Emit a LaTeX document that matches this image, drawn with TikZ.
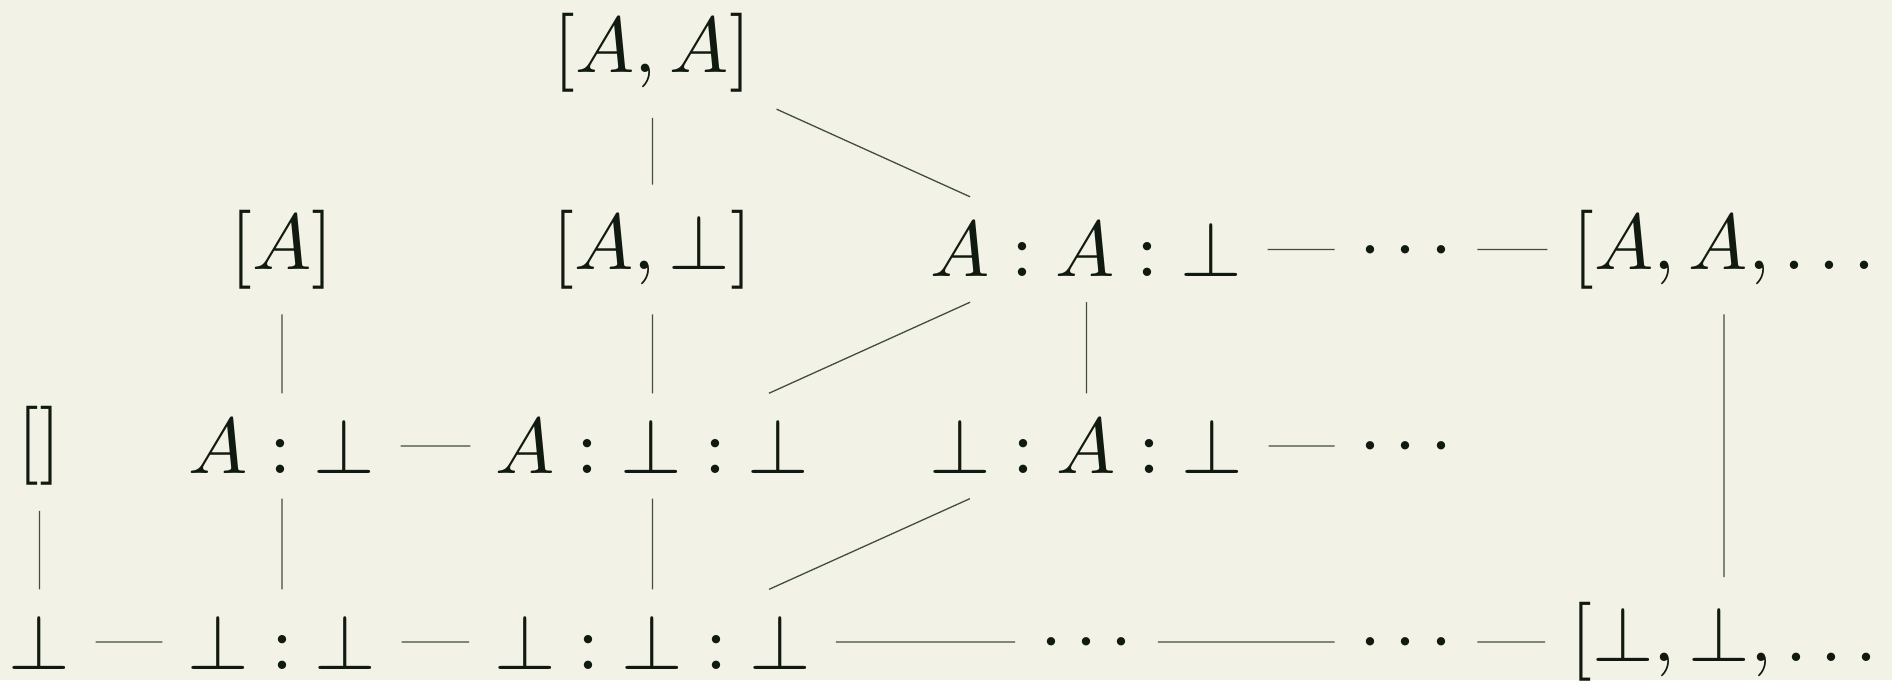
\documentclass[tikz,border=0pt]{standalone}
\definecolor{bg}{RGB}{242,242,230}
\definecolor{inkc}{RGB}{16,26,16}
\definecolor{edgec}{RGB}{66,78,62}
\begin{document}
\begin{tikzpicture}[x=1pt,y=-1pt,
  cell/.style={scale=7.9, inner sep=3pt, text=inkc, font=\fontsize{10}{12}\selectfont},
  dotcell/.style={cell, text height=5pt, text depth=0pt},
  link/.style={draw=edgec, line width=1.3pt}]
\useasboundingbox (0,0) rectangle (1892,680);
\fill[bg] (0,0) rectangle (1892,680);
\clip (0,0) rectangle (1892,680);
% row 1
\node[cell] (aa) at (652.5,53) {$[A, A]$};
% row 2
\node[cell] (a) at (282,249.5) {$[A]$};
\node[cell] (abot) at (652.5,249.5) {$[A, \bot]$};
\node[cell] (aab) at (1086.5,249.5) {$A : A : \bot$};
\node[dotcell] (d2) at (1406,249.5) {$\cdots$};
\node[cell] (aal) at (1724,249.5) {$[A, A, \ldots$};
% row 3
\node[cell] (nil) at (39.5,446) {$[]$};
\node[cell] (ab) at (282,446) {$A : \bot$};
\node[cell] (abb) at (652.5,446) {$A : \bot : \bot$};
\node[cell] (bab) at (1086.5,446) {$\bot : A : \bot$};
\node[dotcell] (d3) at (1406,446) {$\cdots$};
% row 4
\node[cell] (b) at (39.5,642) {$\bot$};
\node[cell] (bb) at (282,642) {$\bot : \bot$};
\node[cell] (bbb) at (652.5,642) {$\bot : \bot : \bot$};
\node[dotcell] (d4a) at (1086.5,642) {$\cdots$};
\node[dotcell] (d4b) at (1406,642) {$\cdots$};
\node[cell] (bbl) at (1724,642) {$[\bot, \bot, \ldots$};
% connectors
\draw[link] (aa) -- (abot);
\draw[link] (aa) -- (aab);
\draw[link] (a) -- (ab);
\draw[link] (abot) -- (abb);
\draw[link] (aab) -- (abb);
\draw[link] (aab) -- (bab);
\draw[link] (aab) -- (d2);
\draw[link] (d2) -- (aal);
\draw[link] (aal) -- (bbl);
\draw[link] (nil) -- (b);
\draw[link] (ab) -- (abb);
\draw[link] (ab) -- (bb);
\draw[link] (abb) -- (bbb);
\draw[link] (bab) -- (bbb);
\draw[link] (bab) -- (d3);
\draw[link] (b) -- (bb);
\draw[link] (bb) -- (bbb);
\draw[link] (bbb) -- (d4a);
\draw[link] (d4a) -- (d4b);
\draw[link] (d4b) -- (bbl);
\end{tikzpicture}
\end{document}
